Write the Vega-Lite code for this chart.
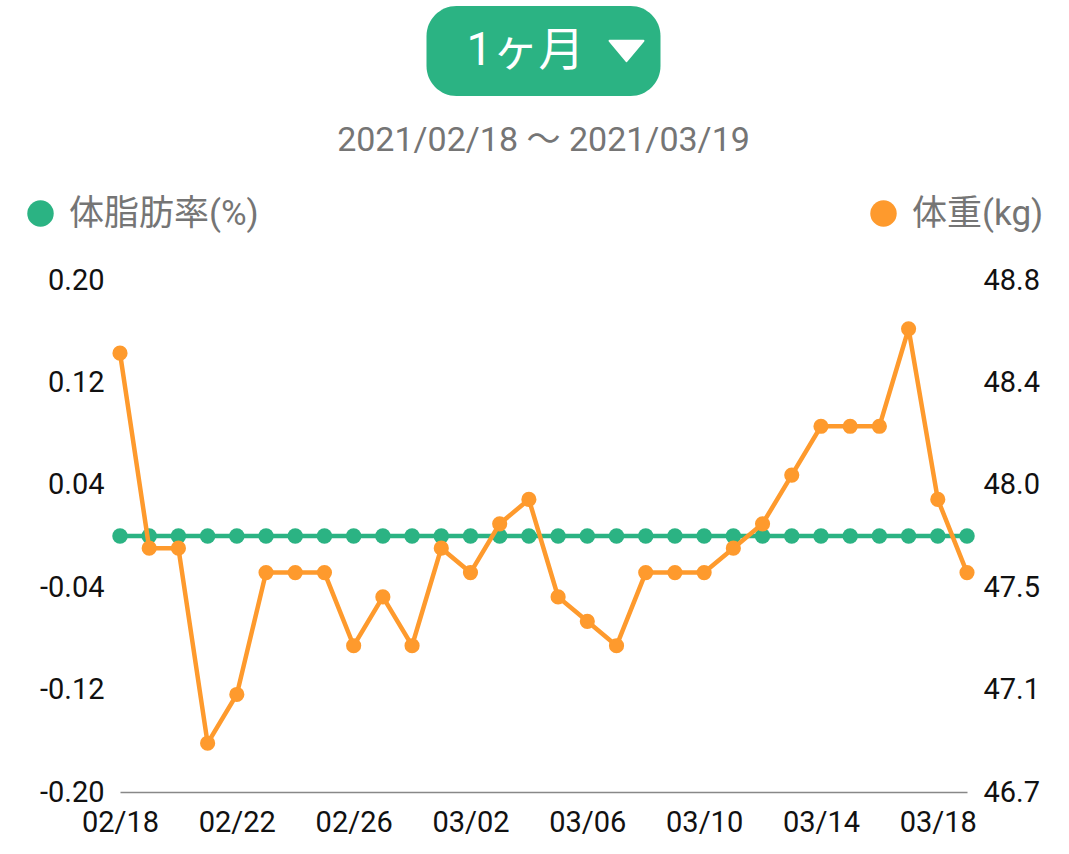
{
  "$schema": "https://vega.github.io/schema/vega-lite/v6.json",
  "background": "white",
  "padding": {"left": 23, "top": 6, "right": 0, "bottom": 0},
  "datasets": {
    "body": [
      {"date": "02/18", "fat": 0, "weight": 48.5},
      {"date": "02/19", "fat": 0, "weight": 47.7},
      {"date": "02/20", "fat": 0, "weight": 47.7},
      {"date": "02/21", "fat": 0, "weight": 46.9},
      {"date": "02/22", "fat": 0, "weight": 47.1},
      {"date": "02/23", "fat": 0, "weight": 47.6},
      {"date": "02/24", "fat": 0, "weight": 47.6},
      {"date": "02/25", "fat": 0, "weight": 47.6},
      {"date": "02/26", "fat": 0, "weight": 47.3},
      {"date": "02/27", "fat": 0, "weight": 47.5},
      {"date": "02/28", "fat": 0, "weight": 47.3},
      {"date": "03/01", "fat": 0, "weight": 47.7},
      {"date": "03/02", "fat": 0, "weight": 47.6},
      {"date": "03/03", "fat": 0, "weight": 47.8},
      {"date": "03/04", "fat": 0, "weight": 47.9},
      {"date": "03/05", "fat": 0, "weight": 47.5},
      {"date": "03/06", "fat": 0, "weight": 47.4},
      {"date": "03/07", "fat": 0, "weight": 47.3},
      {"date": "03/08", "fat": 0, "weight": 47.6},
      {"date": "03/09", "fat": 0, "weight": 47.6},
      {"date": "03/10", "fat": 0, "weight": 47.6},
      {"date": "03/11", "fat": 0, "weight": 47.7},
      {"date": "03/12", "fat": 0, "weight": 47.8},
      {"date": "03/13", "fat": 0, "weight": 48.0},
      {"date": "03/14", "fat": 0, "weight": 48.2},
      {"date": "03/15", "fat": 0, "weight": 48.2},
      {"date": "03/16", "fat": 0, "weight": 48.2},
      {"date": "03/17", "fat": 0, "weight": 48.6},
      {"date": "03/18", "fat": 0, "weight": 47.9},
      {"date": "03/19", "fat": 0, "weight": 47.6}
    ]
  },
  "vconcat": [
    {
      "width": 234,
      "height": 90,
      "view": {"fill": "#2bb383", "stroke": null, "cornerRadius": 30},
      "data": {"values": [{"label": "1ヶ月"}]},
      "layer": [
        {
          "mark": {"type": "text", "color": "white", "fontSize": 46, "font": "Roboto, Noto Sans CJK JP", "dx": -18, "baseline": "middle", "align": "center"},
          "encoding": {"text": {"field": "label"}}
        },
        {
          "mark": {"type": "point", "shape": "M-1,-0.6L1,-0.6L0,0.6Z", "size": 1150, "filled": true, "opacity": 1, "color": "white", "stroke": "white", "strokeWidth": 2, "strokeJoin": "round", "xOffset": 83}
        }
      ]
    },
    {
      "width": 847,
      "height": 512,
      "data": {"name": "body"},
      "title": {
        "text": "2021/02/18 〜 2021/03/19",
        "font": "Roboto, Noto Sans CJK JP",
        "fontSize": 34,
        "fontWeight": "normal",
        "color": "#757575",
        "anchor": "middle",
        "frame": "group",
        "offset": 38
      },
      "encoding": {
        "x": {
          "field": "date",
          "type": "ordinal",
          "sort": null,
          "scale": {"type": "point", "padding": 0},
          "axis": {
            "title": null,
            "values": ["02/18", "02/22", "02/26", "03/02", "03/06", "03/10", "03/14", "03/18"],
            "labelAngle": 0,
            "labelPadding": 16,
            "ticks": false,
            "domain": true,
            "domainColor": "#888888",
            "domainWidth": 1.5,
            "grid": false
          }
        }
      },
      "layer": [
        {
          "encoding": {
            "y": {
              "field": "fat",
              "type": "quantitative",
              "scale": {"domain": [-0.2, 0.2], "nice": false, "zero": false},
              "axis": {
                "orient": "left",
                "title": null,
                "values": [-0.2, -0.12, -0.04, 0.04, 0.12, 0.2],
                "format": ".2f",
                "labelExpr": "replace(datum.label, '−', '-')",
                "domain": false,
                "ticks": false,
                "grid": false,
                "labelPadding": 16
              }
            }
          },
          "layer": [
            {"mark": {"type": "line", "color": "#2bb383", "strokeWidth": 4.5}},
            {
              "mark": {"type": "circle", "size": 240, "opacity": 1},
              "encoding": {
                "color": {
                  "datum": "体脂肪率(%)",
                  "scale": {"range": ["#2bb383"]},
                  "legend": {
                    "orient": "none",
                    "legendX": -97,
                    "legendY": -84,
                    "title": null,
                    "padding": 0,
                    "symbolType": "circle",
                    "symbolSize": 700,
                    "symbolOpacity": 1,
                    "symbolStrokeWidth": 0,
                    "labelFont": "Roboto, Noto Sans CJK JP",
                    "labelFontSize": 35,
                    "labelColor": "#757575",
                    "labelOffset": 11,
                    "labelLimit": 400
                  }
                }
              }
            }
          ]
        },
        {
          "encoding": {
            "y": {
              "field": "weight",
              "type": "quantitative",
              "scale": {"domain": [46.7, 48.8], "nice": false, "zero": false},
              "axis": {
                "orient": "right",
                "title": null,
                "values": [46.7, 47.12, 47.54, 47.96, 48.38, 48.8],
                "format": ".1f",
                "domain": false,
                "ticks": false,
                "grid": false,
                "labelPadding": 16
              }
            }
          },
          "layer": [
            {"mark": {"type": "line", "color": "#fe9a2d", "strokeWidth": 4.5}},
            {
              "mark": {"type": "circle", "size": 230, "opacity": 1},
              "encoding": {
                "color": {
                  "datum": "体重(kg)",
                  "scale": {"range": ["#fe9a2d"]},
                  "legend": {
                    "orient": "none",
                    "legendX": 746,
                    "legendY": -84,
                    "title": null,
                    "padding": 0,
                    "symbolType": "circle",
                    "symbolSize": 700,
                    "symbolOpacity": 1,
                    "symbolStrokeWidth": 0,
                    "labelFont": "Roboto, Noto Sans CJK JP",
                    "labelFontSize": 35,
                    "labelColor": "#757575",
                    "labelOffset": 11,
                    "labelLimit": 400
                  }
                }
              }
            }
          ]
        }
      ],
      "resolve": {"scale": {"y": "independent", "color": "independent"}}
    }
  ],
  "spacing": 184,
  "center": true,
  "bounds": "flush",
  "config": {
    "view": {"stroke": null},
    "axis": {"labelFont": "Roboto", "labelFontSize": 29, "labelColor": "#111111"}
  }
}
